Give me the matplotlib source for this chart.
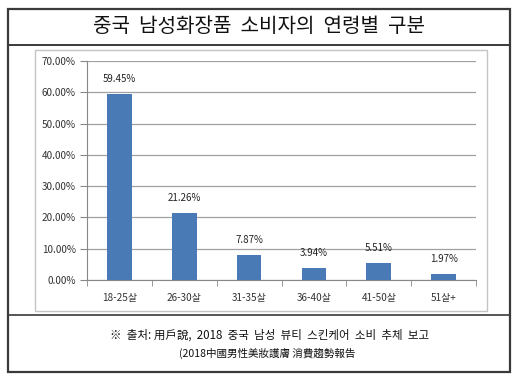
import matplotlib
matplotlib.use("Agg")
import matplotlib.pyplot as plt
from matplotlib.patches import Rectangle
from matplotlib.lines import Line2D
import numpy as np

plt.rcParams['font.family'] = ['Noto Sans CJK KR', 'DejaVu Sans']

title = "중국  남성화장품  소비자의  연령별  구분"
categories = ["18-25살", "26-30살", "31-35살", "36-40살", "41-50살", "51살+"]
values = [59.45, 21.26, 7.87, 3.94, 5.51, 1.97]
yticks = [0, 10, 20, 30, 40, 50, 60, 70]
footer1 = "※  출처: 用戶說,  2018  중국  남성  뷰티  스킨케어  소비  추체  보고"
footer2 = "(2018中國男性美妝護膚 消費趨勢報告"

W, H = 514, 382
fig = plt.figure(figsize=(W/100, H/100), dpi=100)

def fx(x): return x / W
def fy(y): return 1 - y / H

# outer frame
fig.patches.append(Rectangle((fx(8), fy(372)), fx(510) - fx(8), fy(9) - fy(372),
                             transform=fig.transFigure, fill=False, ec="#3a3a3a", lw=1.6))
fig.lines.append(Line2D([fx(8), fx(510)], [fy(45), fy(45)], transform=fig.transFigure, color="#3a3a3a", lw=1.4))
fig.lines.append(Line2D([fx(8), fx(510)], [fy(315), fy(315)], transform=fig.transFigure, color="#3a3a3a", lw=1.2))
# inner chart box
fig.patches.append(Rectangle((fx(35), fy(311)), fx(487) - fx(35), fy(50) - fy(311),
                             transform=fig.transFigure, fill=False, ec="#c4c4c4", lw=1.0))

fig.text(fx(259), fy(27), title, ha="center", va="center", fontsize=14.5,
         fontweight="medium", color="#111111")
fig.text(fx(270), fy(335), footer1, ha="center", va="center", fontsize=8.3,
         fontweight="medium", color="#111111")
fig.text(fx(267), fy(353), footer2, ha="center", va="center", fontsize=7.6,
         fontweight="medium", color="#111111")

ax = fig.add_axes([fx(87), fy(280), fx(476) - fx(87), fy(61) - fy(280)])
x = np.arange(len(categories))
ax.bar(x, values, width=0.38, color="#4a7ab5", zorder=3)
for xi, v in zip(x, values):
    ax.text(xi, v + 3.2, f"{v:.2f}%", ha="center", va="bottom", fontsize=7, color="#222222")

ax.set_xlim(-0.5, len(categories) - 0.5)
ax.set_ylim(0, 70)
ax.set_yticks(yticks)
ax.set_yticklabels([f"{t:.2f}%" for t in yticks], fontsize=7.2, color="#333333")
ax.set_xticks(x)
ax.set_xticklabels(categories, fontsize=7.2, color="#333333")
ax.set_xticks(np.arange(-0.5, len(categories)), minor=True)
ax.tick_params(axis="x", which="major", length=0, pad=9)
ax.tick_params(axis="x", which="minor", length=4, color="#888888", direction="out")
ax.tick_params(axis="y", length=5, color="#888888", direction="out", pad=3)
ax.grid(axis="y", color="#a0a0a0", lw=0.9, zorder=0)
for s in ["top", "right"]:
    ax.spines[s].set_visible(False)
ax.spines["left"].set_color("#888888")
ax.spines["bottom"].set_color("#888888")

fig.savefig("out.png", dpi=100)
